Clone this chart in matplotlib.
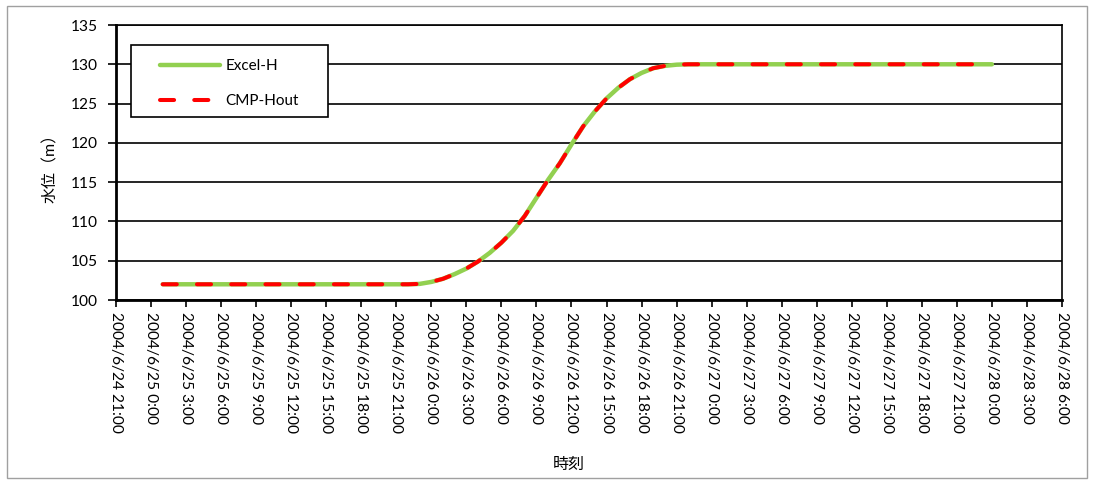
import matplotlib
matplotlib.use("Agg")
import matplotlib.pyplot as plt
from matplotlib.patches import Rectangle
import pandas as pd

plt.rcParams['font.family'] = ['Lato', 'Noto Sans CJK JP', 'DejaVu Sans']

# hourly water level, 2004/6/25 1:00 - 2004/6/28 0:00
start_time = "2004-06-25 01:00"
excel_h = [
    102.0, 102.0, 102.0, 102.0, 102.0, 102.0, 102.0, 102.0,
    102.0, 102.0, 102.0, 102.0, 102.0, 102.0, 102.0, 102.0,
    102.0, 102.0, 102.0, 102.0, 102.0, 102.0, 102.05, 102.3,
    102.7, 103.3, 104.0, 104.9, 106.0, 107.3, 108.8, 110.7,
    113.0, 115.3, 117.4, 119.8, 122.1, 124.0, 125.65, 127.0,
    128.1, 128.9, 129.5, 129.8, 129.95, 130.0, 130.0, 130.0,
    130.0, 130.0, 130.0, 130.0, 130.0, 130.0, 130.0, 130.0,
    130.0, 130.0, 130.0, 130.0, 130.0, 130.0, 130.0, 130.0,
    130.0, 130.0, 130.0, 130.0, 130.0, 130.0, 130.0, 130.0,
]
cmp_hout = list(excel_h)

times = pd.date_range(start_time, periods=len(excel_h), freq="h")
tick_times = pd.date_range("2004-06-24 21:00", "2004-06-28 06:00", freq="3h")
tick_labels = [f"{t.year}/{t.month}/{t.day} {t.hour}:00" for t in tick_times]
y_ticks = [100, 105, 110, 115, 120, 125, 130, 135]

fig = plt.figure(figsize=(10.93, 4.82), dpi=100)
ax = fig.add_axes([116 / 1093, 1 - 300 / 482, 946 / 1093, 275 / 482])

ax.plot(times, excel_h, color="#92D050", lw=3.2, solid_capstyle="round",
        label="Excel-H", zorder=3)
ax.plot(times, cmp_hout, color="#FF0000", lw=2.9, dashes=(3.5, 5.0),
        dash_capstyle="round", label="CMP-Hout", zorder=4)

ax.set_xlim(tick_times[0], tick_times[-1])
ax.set_ylim(100, 135)
ax.set_xticks(tick_times)
ax.set_xticklabels(tick_labels, rotation=270, fontsize=11.2)
ax.set_yticks(y_ticks)
ax.set_yticklabels([str(v) for v in y_ticks], fontsize=11.2)

ax.grid(axis="y", color="black", lw=1.2)
ax.set_axisbelow(True)
ax.tick_params(axis="y", length=6, width=1.2, pad=7, direction="out")
ax.tick_params(axis="x", length=5, width=1.2, pad=4, direction="out")
for side in ["left", "bottom"]:
    ax.spines[side].set_linewidth(2.0)
for side in ["right", "top"]:
    ax.spines[side].set_linewidth(1.2)

# legend box drawn separately for wide side padding
ax.add_patch(Rectangle((15 / 946, 183 / 275), 197 / 946, 72 / 275,
                       transform=ax.transAxes, facecolor="white",
                       edgecolor="black", lw=1.2, zorder=5))
leg = ax.legend(loc="upper left", bbox_to_anchor=(44 / 946, 241 / 275),
                frameon=False, fontsize=11, handlelength=3.9,
                handletextpad=0.4, labelspacing=1.38, borderpad=0.0,
                borderaxespad=0.0)
leg.set_zorder(6)

fig.text(569 / 1093, 1 - 465 / 482, "時刻", ha="center", va="center",
         fontsize=11.5)
fig.text(50 / 1093, 1 - 164 / 482, "水位（m）", ha="center", va="center",
         rotation=90, fontsize=11.5)

fig.add_artist(Rectangle((7 / 1093, 4 / 482), 1080 / 1093, 472 / 482,
                         transform=fig.transFigure, fill=False,
                         edgecolor="#A0A0A0", lw=1.0))

fig.savefig("out.png", dpi=100)
